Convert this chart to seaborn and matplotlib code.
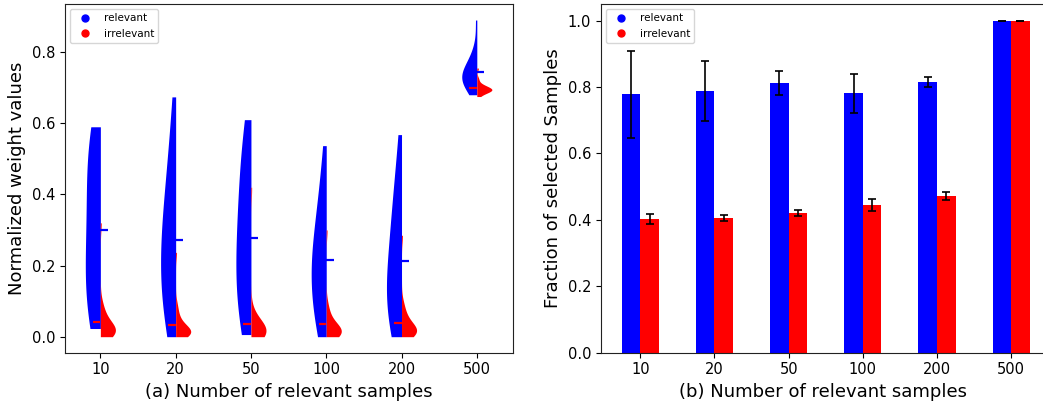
import numpy as np
import matplotlib
matplotlib.use('Agg')
import matplotlib.pyplot as plt
from matplotlib.colors import to_rgb
from matplotlib.lines import Line2D
import pandas as pd
import seaborn as sns

sns.set_style('ticks')
plt.rcParams.update({
    'text.color': 'black',
    'axes.labelcolor': 'black',
    'axes.edgecolor': '#222222',
    'xtick.color': 'black',
    'ytick.color': 'black',
})

groups = ['10', '20', '50', '100', '200', '500']
kinds = ['relevant', 'irrelevant']
colors = {'relevant': 'blue', 'irrelevant': 'red'}

# (a) normalized weight samples
relevant_w = {
    '10': [0.023, 0.03, 0.04, 0.055, 0.07, 0.09, 0.11, 0.13, 0.15, 0.17,
           0.19, 0.21, 0.23, 0.25, 0.275, 0.30, 0.325, 0.35, 0.375, 0.40,
           0.425, 0.45, 0.475, 0.50, 0.52, 0.54, 0.555, 0.57, 0.58, 0.59],
    '20': [0.0, 0.02, 0.04, 0.06, 0.08, 0.10, 0.12, 0.14, 0.16, 0.18,
           0.20, 0.22, 0.24, 0.26, 0.28, 0.30, 0.32, 0.345, 0.37, 0.40,
           0.43, 0.46, 0.50, 0.55, 0.61, 0.674],
    '50': [0.006, 0.012, 0.03, 0.05, 0.07, 0.09, 0.11, 0.13, 0.15, 0.17,
           0.19, 0.21, 0.23, 0.25, 0.27, 0.29, 0.315, 0.34, 0.365, 0.39,
           0.415, 0.44, 0.47, 0.50, 0.53, 0.56, 0.585, 0.61],
    '100': [0.0, 0.005, 0.025, 0.045, 0.065, 0.085, 0.105, 0.125, 0.14,
            0.155, 0.17, 0.185, 0.20, 0.215, 0.23, 0.245, 0.265, 0.285,
            0.31, 0.335, 0.36, 0.39, 0.43, 0.48, 0.537],
    '200': [0.0, 0.005, 0.02, 0.04, 0.055, 0.07, 0.085, 0.10, 0.115, 0.13,
            0.145, 0.16, 0.18, 0.20, 0.225, 0.25, 0.275, 0.30, 0.325, 0.35,
            0.38, 0.41, 0.45, 0.50, 0.568],
    '500': [0.68, 0.695, 0.705, 0.712, 0.718, 0.72, 0.722, 0.726, 0.73,
            0.735, 0.74, 0.745, 0.752, 0.76, 0.77, 0.79, 0.81, 0.89],
}
irrelevant_w = {
    '10': [0.0, 0.002, 0.004, 0.006, 0.008, 0.01, 0.011, 0.012, 0.013,
           0.015, 0.017, 0.019, 0.021, 0.023, 0.026, 0.029, 0.033, 0.038,
           0.044, 0.05, 0.058, 0.068, 0.08, 0.095, 0.32],
    '20': [0.0, 0.002, 0.004, 0.006, 0.007, 0.008, 0.009, 0.01, 0.011,
           0.012, 0.013, 0.015, 0.017, 0.019, 0.021, 0.024, 0.027, 0.031,
           0.036, 0.042, 0.05, 0.06, 0.075, 0.09, 0.237],
    '50': [0.0, 0.002, 0.004, 0.006, 0.007, 0.008, 0.009, 0.01, 0.011,
           0.012, 0.013, 0.014, 0.015, 0.017, 0.019, 0.021, 0.023, 0.026,
           0.029, 0.033, 0.038, 0.045, 0.055, 0.07, 0.42],
    '100': [0.0, 0.002, 0.004, 0.006, 0.007, 0.008, 0.009, 0.01, 0.011,
            0.012, 0.013, 0.015, 0.017, 0.019, 0.021, 0.024, 0.027, 0.031,
            0.036, 0.042, 0.05, 0.06, 0.075, 0.09, 0.30],
    '200': [0.0, 0.002, 0.004, 0.006, 0.008, 0.01, 0.011, 0.012, 0.013,
            0.015, 0.017, 0.019, 0.021, 0.023, 0.026, 0.029, 0.033, 0.038,
            0.044, 0.05, 0.058, 0.068, 0.08, 0.095, 0.285],
    '500': [0.675, 0.682, 0.686, 0.689, 0.69, 0.691, 0.693, 0.694, 0.695,
            0.697, 0.699, 0.702, 0.702, 0.706, 0.712, 0.725, 0.755],
}

# (b) fraction of selected samples, mean and error
relevant_frac = [0.778, 0.788, 0.812, 0.781, 0.815, 1.0]
relevant_err = [0.13, 0.09, 0.037, 0.058, 0.015, 0.0]
irrelevant_frac = [0.403, 0.406, 0.421, 0.445, 0.472, 1.0]
irrelevant_err = [0.014, 0.008, 0.009, 0.017, 0.012, 0.0]


def weights_frame() -> pd.DataFrame:
    rows = []
    for kind, src in (('relevant', relevant_w), ('irrelevant', irrelevant_w)):
        rows += [{'n': g, 'type': kind, 'weight': v} for g in groups for v in src[g]]
    return pd.DataFrame(rows)


def frac_frame() -> pd.DataFrame:
    return pd.DataFrame({
        'n': groups * 2,
        'type': ['relevant'] * 6 + ['irrelevant'] * 6,
        'frac': relevant_frac + irrelevant_frac,
        'err': relevant_err + irrelevant_err,
    })


def add_legend(ax) -> None:
    handles = [Line2D([], [], marker='o', linestyle='', markersize=5,
                      markerfacecolor=colors[k], markeredgecolor=colors[k])
               for k in kinds]
    ax.legend(handles, kinds, loc='upper left', fontsize=7.5)


def main() -> None:
    fig = plt.figure(figsize=(10.43, 4.03), dpi=100)
    left_ax = fig.add_axes([0.0623, 0.1248, 0.4295, 0.8652])
    right_ax = fig.add_axes([0.5762, 0.1248, 0.4260, 0.8652])

    # LEFT: split violins; each half keeps its own bandwidth
    wdf = weights_frame()
    for keep, bw in (('relevant', 1.3), ('irrelevant', 0.7)):
        before = list(left_ax.collections)
        sns.violinplot(ax=left_ax, data=wdf, x='n', y='weight', hue='type',
                       hue_order=kinds, order=groups, split=True, inner=None,
                       cut=0, density_norm='width', width=0.4, palette=colors,
                       saturation=1, linewidth=0, bw_adjust=bw, legend=False)
        for coll in list(left_ax.collections):
            if coll in before:
                continue
            fc = coll.get_facecolor()
            if len(fc) and not np.allclose(fc[0][:3], to_rgb(colors[keep])):
                coll.remove()
    means = wdf.groupby(['type', 'n'])['weight'].mean()
    for i, g in enumerate(groups):
        left_ax.hlines(means['relevant', g], i, i + 0.1, color='blue', lw=1.6, zorder=5)
        left_ax.hlines(means['irrelevant', g], i - 0.1, i, color='red', lw=1.6, zorder=5)
    left_ax.set_xlim(-0.47, 5.48)
    left_ax.set_ylim(-0.045, 0.935)
    left_ax.set_yticks([0.0, 0.2, 0.4, 0.6, 0.8])
    left_ax.set_xlabel('(a) Number of relevant samples', fontsize=13)
    left_ax.set_ylabel('Normalized weight values', fontsize=13)
    add_legend(left_ax)

    # RIGHT: bars with error bars
    fdf = frac_frame()
    sns.barplot(ax=right_ax, data=fdf, x='n', y='frac', hue='type',
                hue_order=kinds, order=groups, palette=colors, width=0.5,
                saturation=1, errorbar=None, linewidth=0, legend=False)
    bars = sorted(right_ax.patches, key=lambda p: p.get_x())
    errs = [e for pair in zip(relevant_err, irrelevant_err) for e in pair]
    xs = [p.get_x() + p.get_width() / 2 for p in bars]
    ys = [p.get_height() for p in bars]
    right_ax.errorbar(xs, ys, yerr=errs, fmt='none', ecolor='black',
                      elinewidth=1.2, capsize=3, capthick=1.2)
    right_ax.set_xlim(-0.53, 5.46)
    right_ax.set_ylim(0, 1.05)
    right_ax.set_xlabel('(b) Number of relevant samples', fontsize=13)
    right_ax.set_ylabel('Fraction of selected Samples', fontsize=13)
    add_legend(right_ax)

    for ax in (left_ax, right_ax):
        ax.tick_params(labelsize=10.5)

    fig.savefig('out.png', dpi=100)


if __name__ == '__main__':
    main()
